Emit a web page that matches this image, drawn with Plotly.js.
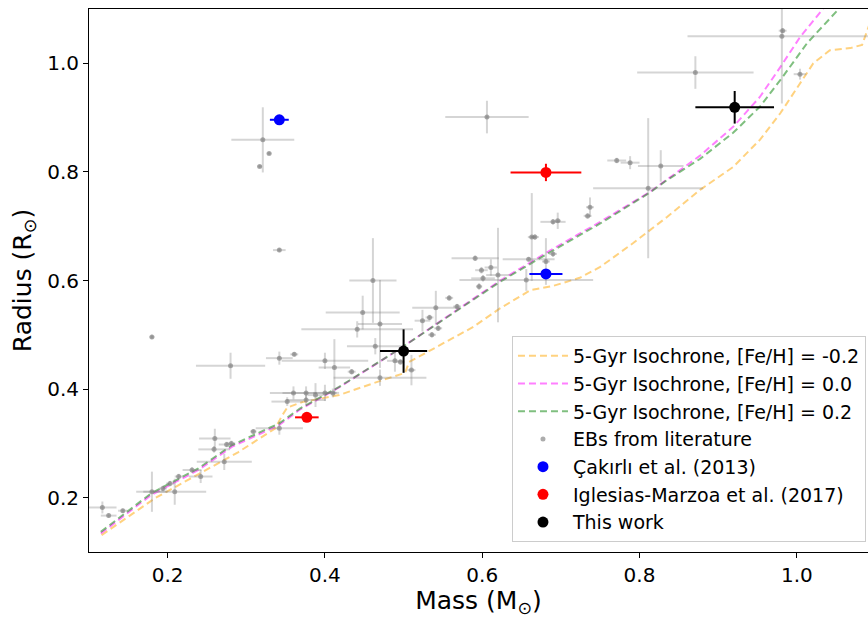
<!DOCTYPE html>
<html><head><meta charset="utf-8">
<script src="https://cdn.plot.ly/plotly-3.0.1.min.js"></script>
<style>html,body{margin:0;padding:0;background:#fff}#chart{width:868px;height:618px}</style>
</head><body><div id="chart"></div>
<script>
// Isochrones (5 Gyr)
const isoMassFeM02 = [0.116,0.185,0.290,0.337,0.345,0.352,0.371,0.418,0.474,0.502,0.507,0.530,0.559,0.588,0.623,0.661,0.690,0.724,0.750,0.792,0.835,0.877,0.919,0.953,0.979,1.004,1.021,1.042,1.068,1.083,1.092];
const isoRadFeM02  = [0.131,0.200,0.284,0.328,0.350,0.366,0.376,0.389,0.417,0.430,0.450,0.468,0.490,0.514,0.549,0.582,0.590,0.605,0.625,0.669,0.717,0.767,0.809,0.859,0.908,0.964,1.000,1.024,1.028,1.034,1.070];
const isoMassFe00 = [0.115,0.179,0.239,0.282,0.342,0.368,0.418,0.495,0.560,0.623,0.686,0.750,0.813,0.877,0.919,0.953,0.979,1.004,1.032,1.060];
const isoRadFe00  = [0.134,0.205,0.251,0.294,0.334,0.362,0.403,0.474,0.538,0.600,0.655,0.708,0.763,0.830,0.883,0.938,0.993,1.048,1.098,1.150];
const isoMassFeP02 = [0.115,0.179,0.239,0.282,0.342,0.368,0.418,0.495,0.560,0.623,0.686,0.750,0.813,0.835,0.877,0.919,0.953,0.982,1.013,1.052,1.080];
const isoRadFeP02  = [0.137,0.208,0.254,0.297,0.337,0.364,0.404,0.474,0.537,0.598,0.652,0.705,0.762,0.785,0.824,0.872,0.920,0.975,1.037,1.098,1.150];

// EBs from literature
const litMass = [0.117,0.125,0.143,0.180,0.180,0.209,0.194,0.203,0.214,0.231,0.242,0.259,0.260,0.275,0.281,0.272,0.309,0.280,0.342,0.361,0.400,0.412,0.360,0.376,0.352,0.376,0.388,0.400,0.342,0.342,0.461,0.448,0.470,0.441,0.464,0.434,0.470,0.489,0.496,0.510,0.524,0.533,0.541,0.544,0.536,0.558,0.568,0.591,0.599,0.611,0.601,0.620,0.596,0.656,0.659,0.663,0.667,0.681,0.690,0.690,0.696,0.734,0.737,0.771,0.788,0.827,0.811,0.871,0.982,0.981,1.004,0.606,0.321,0.329,0.317,0.410];
const litRad  = [0.182,0.167,0.176,0.496,0.211,0.211,0.217,0.226,0.239,0.251,0.239,0.289,0.309,0.298,0.300,0.266,0.322,0.443,0.457,0.464,0.452,0.440,0.393,0.393,0.377,0.380,0.389,0.393,0.328,0.656,0.600,0.541,0.520,0.510,0.479,0.432,0.421,0.452,0.450,0.435,0.526,0.532,0.550,0.512,0.500,0.568,0.552,0.641,0.619,0.624,0.604,0.610,0.589,0.601,0.639,0.680,0.680,0.635,0.649,0.708,0.710,0.719,0.735,0.821,0.817,0.811,0.770,0.983,1.060,1.050,0.980,0.901,0.859,0.834,0.810,0.393];
const litMassErr = [0.018,0.010,0.006,0.003,0.020,0.040,0.005,0.005,0.005,0.012,0.015,0.020,0.020,0.010,0.005,0.035,0.004,0.044,0.017,0.005,0.055,0.020,0.030,0.030,0.020,0.025,0.010,0.015,0.030,0.008,0.030,0.047,0.028,0.071,0.036,0.005,0.059,0.010,0.005,0.005,0.010,0.005,0.030,0.005,0.005,0.005,0.005,0.030,0.008,0.008,0.015,0.015,0.004,0.085,0.033,0.005,0.005,0.005,0.005,0.016,0.004,0.005,0.005,0.012,0.012,0.029,0.070,0.074,0.005,0.120,0.008,0.053,0.040,0.003,0.003,0.008];
const litRadErr  = [0.011,0.004,0.004,0.004,0.037,0.024,0.005,0.005,0.005,0.005,0.012,0.006,0.018,0.005,0.005,0.015,0.004,0.024,0.012,0.004,0.015,0.052,0.012,0.012,0.008,0.010,0.022,0.015,0.012,0.004,0.078,0.031,0.081,0.015,0.015,0.005,0.015,0.020,0.005,0.028,0.020,0.005,0.031,0.005,0.005,0.005,0.005,0.005,0.006,0.015,0.006,0.087,0.006,0.020,0.004,0.081,0.005,0.043,0.005,0.005,0.015,0.005,0.018,0.005,0.012,0.029,0.129,0.030,0.005,0.124,0.010,0.030,0.060,0.003,0.003,0.008];

// Çakırlı et al. (2013)
const cakMass = [0.342,0.681];
const cakRad = [0.896,0.612];
const cakMassErr = [0.012,0.021];
const cakRadErr = [0.008,0.005];
// Iglesias-Marzoa et al. (2017)
const igMass = [0.377,0.681];
const igRad = [0.348,0.799];
const igMassErr = [0.015,0.045];
const igRadErr = [0.005,0.016];
// This work
const twMass = [0.500,0.921];
const twRad = [0.470,0.919];
const twMassErr = [0.030,0.050];
const twRadErr = [0.040,0.030];

const FONT = 'DejaVu Sans, sans-serif';
function iso(x, y, name, color, g) {
  return {x:x, y:y, name:name, mode:'lines', type:'scatter', legendgroup:g,
    line:{color:color, width:2, dash:'7px,4px'}, hoverinfo:'skip'};
}
function pts(x, y, ex, ey, name, mcolor, ecolor, size, g) {
  return {x:x, y:y, name:name, mode:'markers', type:'scatter', legendgroup:g,
    marker:{color:mcolor, size:size},
    error_x:{type:'data', array:ex, color:ecolor, thickness:2, width:0},
    error_y:{type:'data', array:ey, color:ecolor, thickness:2, width:0}, hoverinfo:'skip'};
}
const data = [
  iso(isoMassFeM02, isoRadFeM02, '5-Gyr Isochrone, [Fe/H] = -0.2', 'rgba(255,165,0,0.5)', 'a'),
  iso(isoMassFe00, isoRadFe00, '5-Gyr Isochrone, [Fe/H] = 0.0', 'rgba(255,0,255,0.5)', 'b'),
  iso(isoMassFeP02, isoRadFeP02, '5-Gyr Isochrone, [Fe/H] = 0.2', 'rgba(0,128,0,0.5)', 'c'),
  pts(litMass, litRad, litMassErr, litRadErr, 'EBs from literature', 'rgba(128,128,128,0.65)', 'rgba(128,128,128,0.33)', 5, 'd'),
  pts(cakMass, cakRad, cakMassErr, cakRadErr, 'Çakırlı et al. (2013)', '#0000ff', '#0000ff', 11, 'e'),
  pts(igMass, igRad, igMassErr, igRadErr, 'Iglesias-Marzoa et al. (2017)', '#ff0000', '#ff0000', 11, 'f'),
  pts(twMass, twRad, twMassErr, twRadErr, 'This work', '#000000', '#000000', 11, 'g')
];
const axisCommon = {showgrid:false, zeroline:false, showline:true, linecolor:'#000', linewidth:1,
  ticks:'outside', ticklen:5, tickwidth:1, tickcolor:'#000', tickformat:'.1f', dtick:0.2, tick0:0,
  tickfont:{family:FONT, size:20, color:'#000'}};
const layout = {
  width:868, height:618,
  margin:{l:89, r:0, t:9, b:66, pad:0},
  paper_bgcolor:'#fff', plot_bgcolor:'#fff',
  font:{family:FONT, color:'#000'},
  xaxis:Object.assign({}, axisCommon, {range:[0.1,1.0905], mirror:true,
    title:{text:'Mass (M<sub>⊙</sub>)', font:{family:FONT, size:25, color:'#000'}, standoff:10}}),
  yaxis:Object.assign({}, axisCommon, {range:[0.1,1.1],
    title:{text:'Radius (R<sub>⊙</sub>)', font:{family:FONT, size:25, color:'#000'}, standoff:8}}),
  legend:{x:0.9974, xanchor:'right', y:0.0184, yanchor:'bottom',
    bgcolor:'rgba(255,255,255,0.85)', bordercolor:'#cccccc', borderwidth:1,
    font:{family:FONT, size:19, color:'#000'}, traceorder:'grouped', tracegroupgap:0, itemwidth:50},
  showlegend:true
};
Plotly.newPlot('chart', data, layout, {staticPlot:true, displayModeBar:false});
</script></body></html>
